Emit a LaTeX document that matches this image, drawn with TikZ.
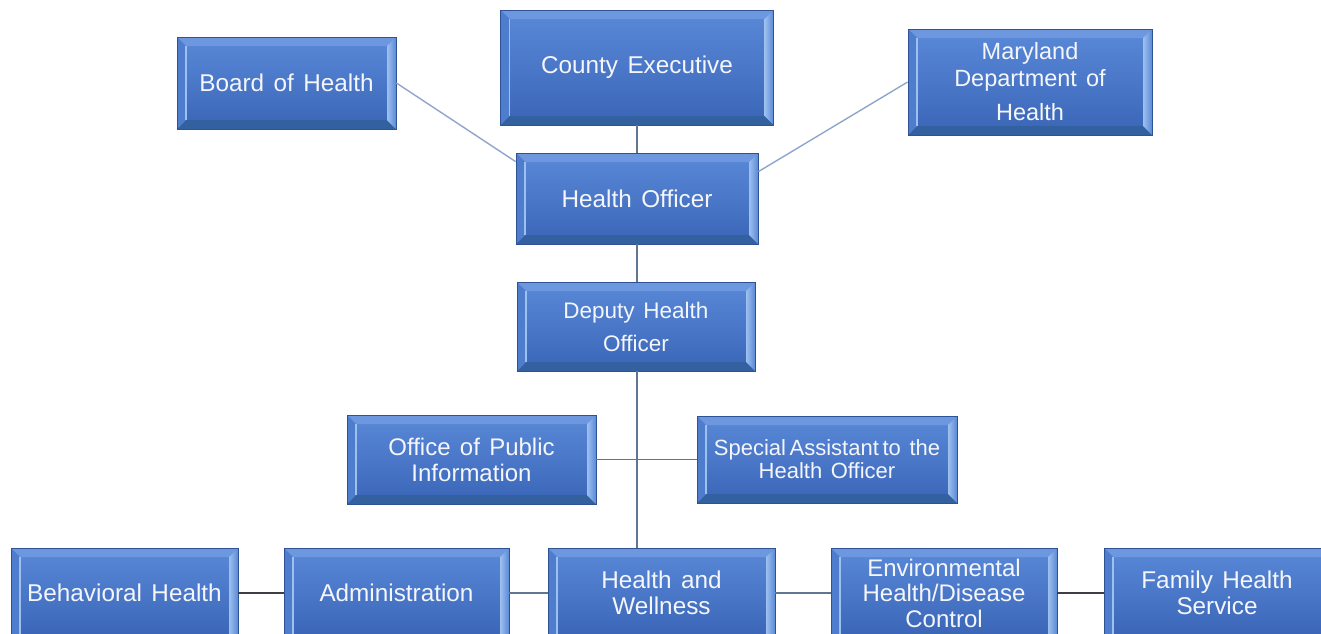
\documentclass[tikz,border=0pt]{standalone}
\usepackage{fontspec}
\setmainfont[WordSpace=1.4]{Liberation Sans}
\usetikzlibrary{calc}
\definecolor{boxtop}{HTML}{5A89D8}
\definecolor{boxbot}{HTML}{3A65B7}
\definecolor{boxline}{HTML}{2F5294}
\definecolor{bevtop}{HTML}{6D97DF}
\definecolor{bevleft}{HTML}{4E7DCE}
\definecolor{bevlight}{HTML}{9DC0EE}
\definecolor{bevbot}{HTML}{33609F}
\definecolor{boxtext}{HTML}{F4F6FA}
\definecolor{linkblue}{HTML}{8FA6CC}
\definecolor{linkgrey}{HTML}{5F7594}
\definecolor{linkdark}{HTML}{3C3F45}
\tikzset{
  bevelsides/.code={},
  orgbox/.style={draw=boxline, line width=0.8pt, top color=boxtop, bottom color=boxbot,
    text=boxtext, font=\fontsize{24.3}{27}\selectfont, align=center, inner sep=0pt,
    path picture={
      \coordinate (pNW) at (path picture bounding box.north west);
      \coordinate (pNE) at (path picture bounding box.north east);
      \coordinate (pSW) at (path picture bounding box.south west);
      \coordinate (pSE) at (path picture bounding box.south east);
      \fill[bevtop] (pNW) -- (pNE) -- ($(pNE)+(-9pt,-9pt)$) -- ($(pNW)+(9pt,-9pt)$) -- cycle;
      \fill[bevbot] (pSW) -- (pSE) -- ($(pSE)+(-9pt,9pt)$) -- ($(pSW)+(9pt,9pt)$) -- cycle;
      \fill[bevleft] (pNW) -- ($(pNW)+(9pt,-9pt)$) -- ($(pSW)+(9pt,9pt)$) -- (pSW) -- cycle;
      \draw[bevlight, line width=1.2pt] ($(pNW)+(9pt,-9pt)$) -- ($(pSW)+(9pt,9pt)$);
      \shade[left color=bevlight, right color=boxtop] (pNE) -- ($(pNE)+(-9pt,-9pt)$) -- ($(pSE)+(-9pt,9pt)$) -- (pSE) -- cycle;
    }},
  cutbox/.style={draw=boxline, line width=0.8pt, top color=boxtop, bottom color=boxbot,
    text=boxtext, font=\fontsize{24.3}{26}\selectfont, align=center, inner sep=0pt,
    minimum height=90pt,
    path picture={
      \coordinate (pNW) at (path picture bounding box.north west);
      \coordinate (pNE) at (path picture bounding box.north east);
      \coordinate (pSW) at (path picture bounding box.south west);
      \coordinate (pSE) at (path picture bounding box.south east);
      \fill[bevtop] (pNW) -- (pNE) -- ($(pNE)+(-9pt,-9pt)$) -- ($(pNW)+(9pt,-9pt)$) -- cycle;
      \fill[bevleft] (pNW) -- ($(pNW)+(9pt,-9pt)$) -- ($(pSW)+(9pt,0pt)$) -- (pSW) -- cycle;
      \draw[bevlight, line width=1.2pt] ($(pNW)+(9pt,-9pt)$) -- ($(pSW)+(9pt,0pt)$);
      \shade[left color=bevlight, right color=boxtop] (pNE) -- ($(pNE)+(-9pt,-9pt)$) -- ($(pSE)+(-9pt,0pt)$) -- (pSE) -- cycle;
    }},
  link/.style={draw=linkgrey, line width=1.4pt},
  diag/.style={draw=linkblue, line width=1.4pt},
  darklink/.style={draw=linkdark, line width=1.2pt}
}
\begin{document}
\begin{tikzpicture}[x=1pt,y=-1pt]
\useasboundingbox (0,0) rectangle (1321,633);
\fill[white] (0,0) rectangle (1321,633);
\clip (0,0) rectangle (1321,633);

\node[orgbox, minimum width=219pt, minimum height=92pt] (boh) at (286.5,83) {Board of Health};
\node[orgbox, minimum width=273pt, minimum height=115pt] (ce) at (637,67.5) {County Executive};
\node[orgbox, minimum width=244pt, minimum height=106pt, font=\fontsize{23.5}{27}\selectfont] (mdh) at (1030,82) {Maryland\\Department of\\[7pt]Health};
\node[orgbox, minimum width=242pt, minimum height=91pt] (ho) at (637,198.5) {Health Officer};
\node[orgbox, minimum width=238pt, minimum height=89pt, font=\fontsize{22.5}{33}\selectfont] (dho) at (636,326.5) {Deputy Health\\Officer};
\node[orgbox, minimum width=249pt, minimum height=89pt, font=\fontsize{24}{26}\selectfont] (opi) at (471.5,459.5) {Office of Public\\Information};
\node[orgbox, minimum width=260pt, minimum height=87pt, font=\fontsize{22}{23}\selectfont] (sa) at (827,459.5) {Special\,Assistant\,to the\\Health Officer};
\node[cutbox, minimum width=227pt] (bh) at (124.5,593) {Behavioral Health};
\node[cutbox, minimum width=225pt] (adm) at (396.5,593) {Administration};
\node[cutbox, minimum width=227pt] (hw) at (661.5,593) {Health and\\Wellness};
\node[cutbox, minimum width=226pt, font=\fontsize{24}{25.5}\selectfont] (env) at (944,593) {Environmental\\Health/Disease\\Control};
\node[cutbox, minimum width=226pt] (fhs) at (1217,593) {Family Health\\Service};

\draw[link] (ce.south) -- (ho.north);
\draw[diag] (boh.east) -- ($(ho.north west)+(0,-9pt)$);
\draw[diag] (mdh.west) -- ($(ho.north east)+(0,-19pt)$);
\draw[link] (ho.south) -- (ho.south |- dho.north);
\coordinate (trunk) at (ho.south |- dho.south);
\draw[link] (trunk) -- (trunk |- hw.north);
\draw[link] (opi.east) -- (sa.west);
\draw[darklink] (bh.east) -- (adm.west);
\draw[link] (adm.east) -- (hw.west);
\draw[link] (hw.east) -- (env.west);
\draw[darklink] (env.east) -- (fhs.west);
\end{tikzpicture}
\end{document}
